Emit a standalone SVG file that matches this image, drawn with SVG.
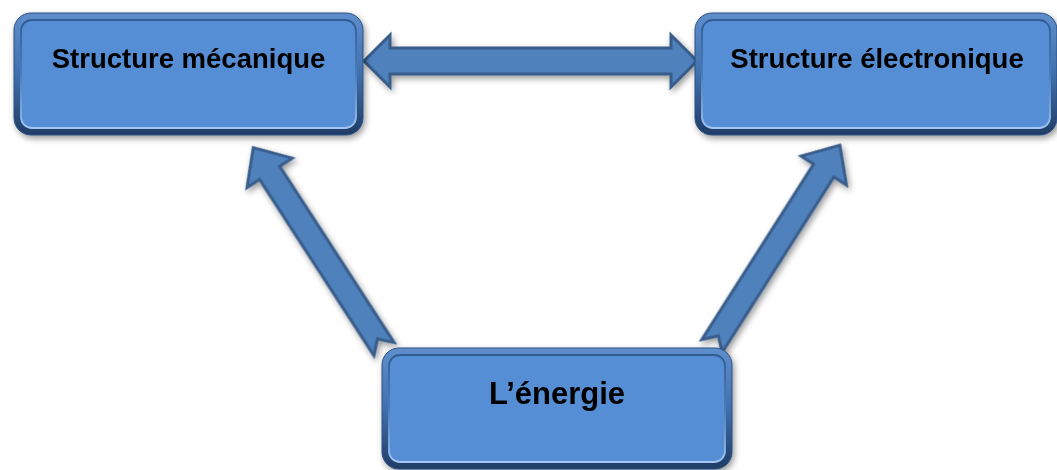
<svg xmlns="http://www.w3.org/2000/svg" width="1057" height="470" viewBox="0 0 1057 470">
  <defs>
    <style>
      .label { font-family: "Liberation Sans", Arial, sans-serif; font-weight: bold; fill: #000; text-anchor: middle; }
      .rim { fill: url(#rimGrad); stroke: #2b5083; stroke-width: 1; }
      .face { fill: #558ed5; stroke: url(#bevelGrad); stroke-width: 1.8; }
      .arrow { fill: #4f81bd; stroke: #385d8a; stroke-width: 3; stroke-linejoin: miter; }
    </style>
    <linearGradient id="rimGrad" x1="0" y1="0" x2="0" y2="1">
      <stop offset="0" stop-color="#5f8ecc"/>
      <stop offset="0.5" stop-color="#4070ad"/>
      <stop offset="1" stop-color="#1f3c66"/>
    </linearGradient>
    <linearGradient id="bevelGrad" x1="0" y1="0" x2="0" y2="1">
      <stop offset="0" stop-color="#2f5b93"/>
      <stop offset="0.5" stop-color="#4a7cbc"/>
      <stop offset="1" stop-color="#a3c6f2"/>
    </linearGradient>
    <filter id="shadow" x="-10%" y="-20%" width="130%" height="150%">
      <feDropShadow dx="2" dy="3" stdDeviation="3" flood-color="#000" flood-opacity="0.4"/>
    </filter>
  </defs>

  <!-- connectors -->
  <g id="connectors" filter="url(#shadow)">
    <!-- two-way link between the upper boxes -->
    <polygon class="arrow" points="364,61 390,35 390,48 671,48 671,35 697,61 671,87 671,74 390,74 390,87"/>
    <!-- energy to mechanical structure -->
    <polygon class="arrow" transform="translate(384,349) rotate(-123)"
             points="0,-12 210,-12 210,-27 240,0 210,27 210,12 0,12 12,0"/>
    <!-- energy to electronic structure -->
    <polygon class="arrow" transform="translate(712,346) rotate(-57.5)"
             points="0,-12 208,-12 208,-27 238,0 208,27 208,12 0,12 12,0"/>
  </g>

  <!-- nodes -->
  <g id="node-mecanique" filter="url(#shadow)">
    <rect class="rim" x="14" y="13" width="349" height="122" rx="17"/>
    <rect class="face" x="21" y="20" width="335" height="108" rx="11"/>
    <text class="label" x="188.5" y="68" font-size="27.5">Structure mécanique</text>
  </g>

  <g id="node-electronique" filter="url(#shadow)">
    <rect class="rim" x="695" y="13" width="362" height="122" rx="17"/>
    <rect class="face" x="702" y="20" width="348" height="108" rx="11"/>
    <text class="label" x="877" y="68" font-size="27.5">Structure électronique</text>
  </g>

  <g id="node-energie" filter="url(#shadow)">
    <rect class="rim" x="382" y="348" width="350" height="121" rx="17"/>
    <rect class="face" x="389" y="355" width="336" height="107" rx="11"/>
    <text class="label" x="557" y="404" font-size="31">L’énergie</text>
  </g>
</svg>
